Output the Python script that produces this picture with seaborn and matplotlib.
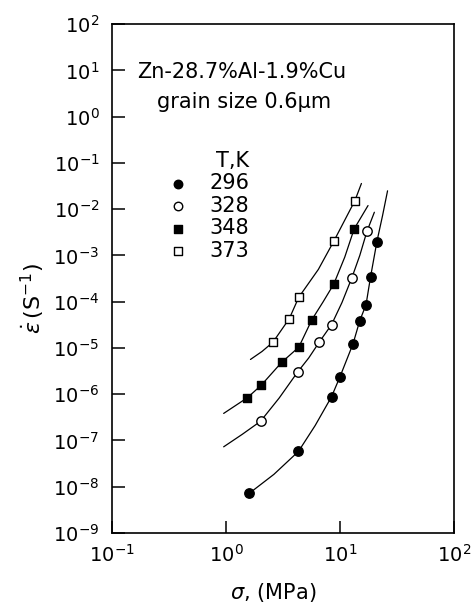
import numpy as np
import pandas as pd
import matplotlib
matplotlib.use('Agg')
import matplotlib.pyplot as plt
import seaborn as sns

# temperatures, K
temps = ['296', '328', '348', '373']

# measured points: stress (MPa) and strain rate (1/s)
stress_296 = [1.60, 4.32, 8.43, 10.0, 13.0, 15.0, 16.9, 18.5, 21.0]
rate_296 = [7.2e-9, 5.8e-8, 8.7e-7, 2.34e-6, 1.23e-5, 3.8e-5, 8.4e-5, 3.4e-4, 2.0e-3]

stress_328 = [2.01, 4.24, 6.59, 8.43, 12.7, 17.2]
rate_328 = [2.6e-7, 3.0e-6, 1.35e-5, 3.2e-5, 3.3e-4, 3.3e-3]

stress_348 = [1.54, 2.03, 3.08, 4.35, 5.67, 8.81, 13.3]
rate_348 = [8.4e-7, 1.55e-6, 4.9e-6, 1.04e-5, 4.1e-5, 2.4e-4, 3.75e-3]

stress_373 = [2.58, 3.59, 4.35, 8.88, 13.5]
rate_373 = [1.33e-5, 4.3e-5, 1.25e-4, 2.1e-3, 1.53e-2]

# hand drawn curves
curve_x_296 = [1.60, 2.63, 4.32, 6.05, 8.40, 9.98, 13.0, 14.9, 16.9, 18.5, 21.1, 23.6, 26.1]
curve_y_296 = [7.2e-9, 1.85e-8, 5.8e-8, 2.1e-7, 8.7e-7, 2.37e-6, 1.23e-5, 3.9e-5, 8.6e-5,
               3.4e-4, 2.05e-3, 7.3e-3, 2.5e-2]

curve_x_328 = [0.955, 1.39, 2.01, 2.93, 4.24, 5.32, 6.59, 8.43, 10.4, 12.7, 14.9, 17.2, 20.0]
curve_y_328 = [7.3e-8, 1.36e-7, 2.6e-7, 8.3e-7, 3.0e-6, 6.1e-6, 1.35e-5, 3.2e-5, 9.6e-5,
               3.3e-4, 1.0e-3, 3.3e-3, 8.6e-3]

curve_x_348 = [0.955, 1.54, 2.03, 3.08, 4.35, 5.67, 7.10, 8.81, 11.0, 13.3, 17.6]
curve_y_348 = [3.85e-7, 8.4e-7, 1.55e-6, 4.9e-6, 1.04e-5, 4.1e-5, 9.9e-5, 2.4e-4, 9.2e-4,
               3.75e-3, 1.2e-2]

curve_x_373 = [1.64, 2.07, 2.58, 3.59, 4.35, 6.46, 8.88, 13.5, 15.4]
curve_y_373 = [5.65e-6, 8.4e-6, 1.33e-5, 4.3e-5, 1.25e-4, 5.0e-4, 2.1e-3, 1.53e-2, 3.6e-2]

sns.set_style('ticks')
plt.rcParams['font.family'] = ['DejaVu Sans']
plt.rcParams['mathtext.fontset'] = 'dejavusans'
plt.rcParams['text.color'] = 'black'
plt.rcParams['axes.labelcolor'] = 'black'
plt.rcParams['xtick.direction'] = 'in'
plt.rcParams['ytick.direction'] = 'in'
plt.rcParams['xtick.major.size'] = 9
plt.rcParams['ytick.major.size'] = 9
plt.rcParams['xtick.major.width'] = 1.1
plt.rcParams['ytick.major.width'] = 1.1
plt.rcParams['xtick.color'] = 'black'
plt.rcParams['ytick.color'] = 'black'

fig = plt.figure(figsize=(4.76, 6.05), dpi=100)
ax = fig.add_axes([0.235, 0.119, 0.719, 0.841])

points = [(stress_296, rate_296, 'o', 'black', 46),
          (stress_328, rate_328, 'o', 'white', 46),
          (stress_348, rate_348, 's', 'black', 38),
          (stress_373, rate_373, 's', 'white', 38)]
curves = [(curve_x_296, curve_y_296), (curve_x_328, curve_y_328),
          (curve_x_348, curve_y_348), (curve_x_373, curve_y_373)]

# draw the curves first so markers sit on top
for cx, cy in curves:
    df = pd.DataFrame({'x': cx, 'y': cy})
    sns.lineplot(data=df, x='x', y='y', sort=False, estimator=None,
                 color='black', linewidth=0.9, ax=ax)

for t, (sx, sy, m, fc, s) in zip(temps, points):
    df = pd.DataFrame({'x': sx, 'y': sy})
    sns.scatterplot(data=df, x='x', y='y', marker=m, s=s, color=fc,
                    edgecolor='black', linewidth=1.0, label=t, ax=ax, zorder=3)

ax.set_xscale('log')
ax.set_yscale('log')
ax.set_xlim(1e-1, 1e2)
ax.set_ylim(1e-9, 1e2)

ax.set_xticks([1e-1, 1e0, 1e1, 1e2])
ax.set_yticks([10.0 ** k for k in range(-9, 3)])
ax.minorticks_off()
ax.tick_params(axis='both', which='major', labelsize=14, pad=9,
               left=True, bottom=True, right=False, top=False)
ax.tick_params(axis='x', pad=8)

for sp in ax.spines.values():
    sp.set_linewidth(1.2)
    sp.set_color('black')
    sp.set_visible(True)

ax.set_xlabel(r'$\sigma$, (MPa)', fontsize=15)
ax.set_ylabel(r'$\dot{\epsilon}\,(\mathrm{S}^{-1})$', fontsize=16)
ax.xaxis.set_label_coords(0.47, -0.095)
ax.yaxis.set_label_coords(-0.19, 0.46)

ax.text(0.073, 0.906, 'Zn-28.7%Al-1.9%Cu', transform=ax.transAxes,
        fontsize=15, va='center', ha='left')
ax.text(0.132, 0.847, 'grain size 0.6μm', transform=ax.transAxes,
        fontsize=15, va='center', ha='left')

leg = ax.legend(title='T,K', frameon=False, loc='upper left',
                bbox_to_anchor=(0.12, 0.78), fontsize=15, title_fontsize=15,
                handlelength=1.0, handletextpad=1.0, labelspacing=0.12,
                markerscale=0.9, borderpad=0.2)
leg._legend_box.align = 'right'

fig.savefig('out.png', dpi=100)
